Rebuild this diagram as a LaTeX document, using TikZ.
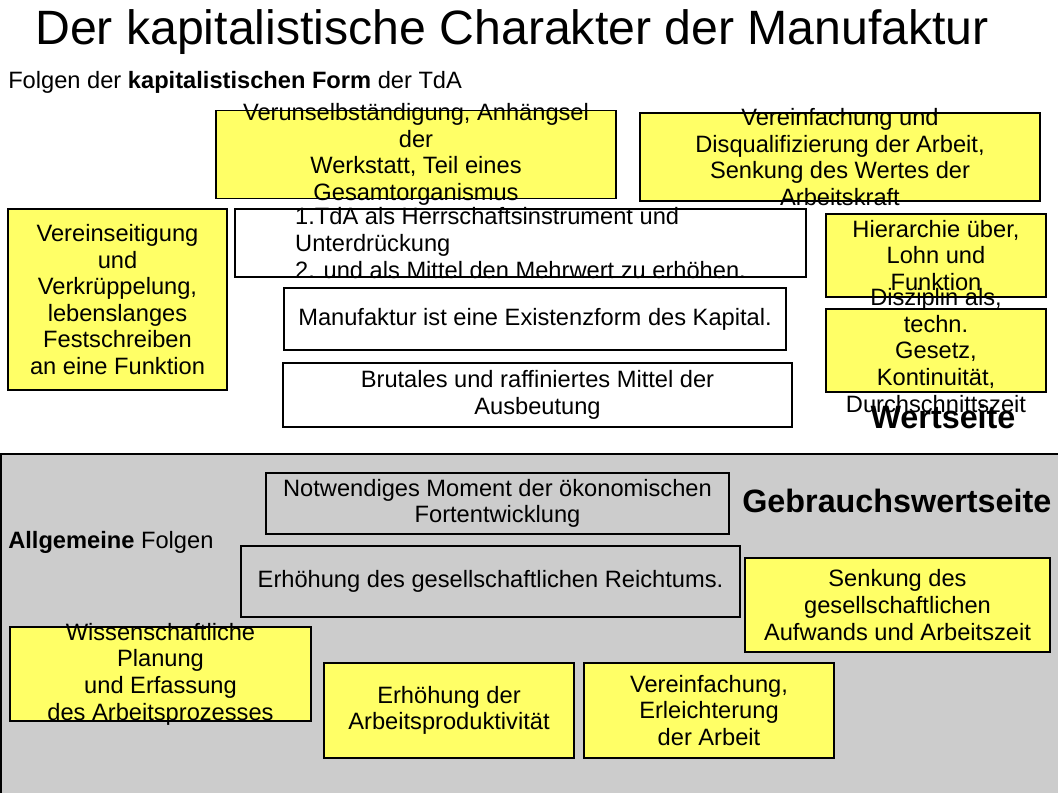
\documentclass[tikz,border=0pt]{standalone}
\usepackage{fontspec}
\setmainfont{Liberation Sans}
\usetikzlibrary{positioning}
\definecolor{boxyellow}{HTML}{FFFF66}
\definecolor{panelgray}{HTML}{CCCCCC}
\def\px{0.6805pt}

\begin{document}
\begin{tikzpicture}[x=\px, y=-\px,
   box/.style 2 args={draw, line width=0.7pt, inner sep=0pt,
      minimum width=#1*\px, minimum height=#2*\px},
   ybox/.style 2 args={box={#1}{#2}, fill=boxyellow},
   wbox/.style 2 args={box={#1}{#2}, fill=white},
   gbox/.style 2 args={box={#1}{#2}},
   txt/.style={align=center, inner sep=0pt, font=\fontsize{16.1}{18.1}\selectfont},
   head/.style={inner sep=0pt, font=\bfseries\fontsize{22}{26}\selectfont}]
   \useasboundingbox (0,0) rectangle (1058,793);
   % Gebrauchswertseite panel
   \draw[fill=panelgray, line width=1pt] (1,454) rectangle (1070,805);

   \node[inner sep=0pt, anchor=base west, font=\fontsize{32.8}{38}\selectfont] (title) at (35,44)
      {Der kapitalistische Charakter der Manufaktur};
   \node[txt, anchor=base west] (form) at (8,88)
      {Folgen der \textbf{kapitalistischen Form} der TdA};

   % Wertseite
   \node[ybox={400}{88}] (verun) at (416,154.5) {};
   \node[txt] (verun-t) at (verun) {Verunselbständigung, Anhängsel\\der\\Werkstatt, Teil eines\\Gesamtorganismus};
   \node[ybox={400}{88}] (disq) at (840,157) {};
   \node[txt] (disq-t) at (disq) {Vereinfachung und\\Disqualifizierung der Arbeit,\\Senkung des Wertes der\\Arbeitskraft};
   \node[ybox={219}{181}] (einseit) at (117.5,299.5) {};
   \node[txt] (einseit-t) at (einseit) {Vereinseitigung\\und\\Verkrüppelung,\\lebenslanges\\Festschreiben\\an eine Funktion};
   \node[wbox={571}{68}] (tda) at (520.5,243) {};
   \node[txt, align=left] (tda-t) at (tda) {1.TdA als Herrschaftsinstrument und\\Unterdrückung\\2. und als Mittel den Mehrwert zu erhöhen.};
   \node[wbox={502}{62}] (exist) at (535,319) {};
   \node[txt] (exist-t) at (exist) {Manufaktur ist eine Existenzform des Kapital.};
   \node[wbox={509}{64}] (ausb) at (537.5,395) {};
   \node[txt] (ausb-t) at (ausb) {Brutales und raffiniertes Mittel der\\Ausbeutung};
   \node[ybox={220}{83}] (hier) at (936,255.5) {};
   \node[txt] (hier-t) at (hier) {Hierarchie über,\\Lohn und\\Funktion};
   \node[ybox={220}{83}] (diszi) at (936,350.5) {};
   \node[txt] (diszi-t) at (diszi) {Disziplin als,\\techn.\\Gesetz,\\Kontinuität,\\Durchschnittszeit};
   \node[head, anchor=base] (wert) at (943,428) {Wertseite};

   % Gebrauchswertseite
   \node[head, anchor=base west] (gebr) at (742,512) {Gebrauchswertseite};
   \node[txt, anchor=base west] (allg) at (8,548) {\textbf{Allgemeine} Folgen};
   \node[gbox={463}{61}] (moment) at (497.5,503.5) {};
   \node[txt] (moment-t) at (moment) {Notwendiges Moment der ökonomischen\\Fortentwicklung};
   \node[gbox={499}{71}] (reich) at (490.5,581.5) {};
   \node[txt] (reich-t) at (reich) {Erhöhung des gesellschaftlichen Reichtums.};
   \node[ybox={305}{94}] (aufw) at (897.5,605) {};
   \node[txt] (aufw-t) at (aufw) {Senkung des\\gesellschaftlichen\\Aufwands und Arbeitszeit};
   \node[ybox={301}{94}] (plan) at (160.5,674) {};
   \node[txt] (plan-t) at (plan) {Wissenschaftliche\\Planung\\und Erfassung\\des Arbeitsprozesses};
   \node[ybox={250}{95}] (prod) at (449,710.5) {};
   \node[txt] (prod-t) at (prod) {Erhöhung der\\Arbeitsproduktivität};
   \node[ybox={250}{95}] (leicht) at (709,710.5) {};
   \node[txt] (leicht-t) at (leicht) {Vereinfachung,\\Erleichterung\\der Arbeit};
\end{tikzpicture}
\end{document}
